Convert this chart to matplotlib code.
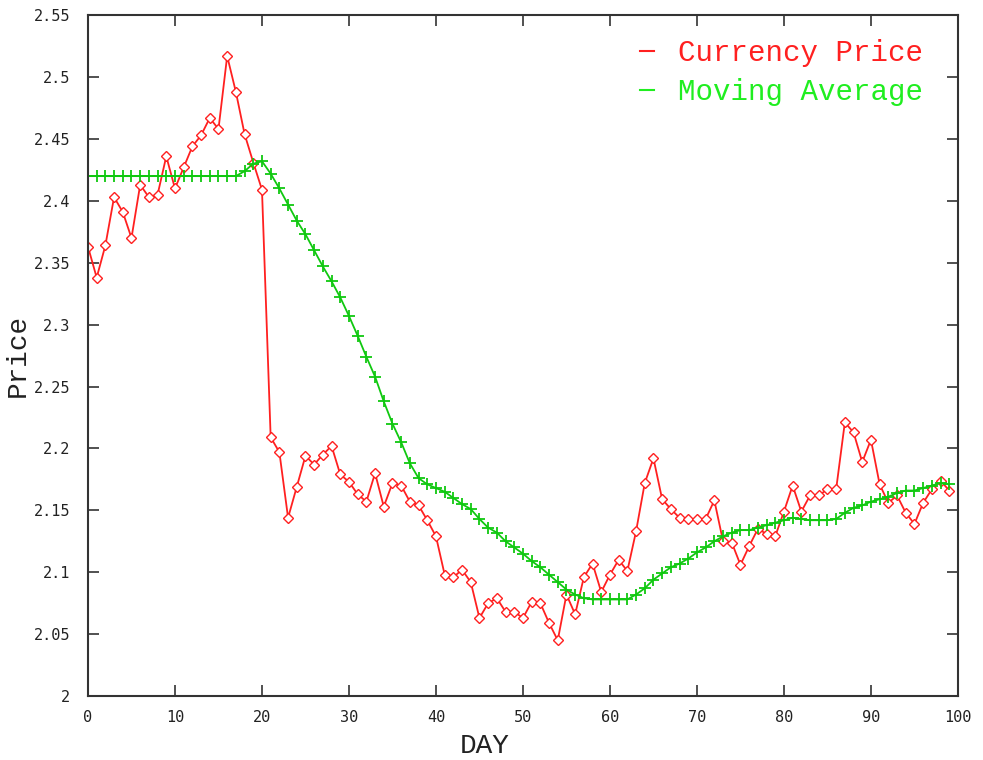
import matplotlib
matplotlib.use('Agg')
import matplotlib.pyplot as plt
from matplotlib.lines import Line2D
from matplotlib.ticker import FuncFormatter
import numpy as np

# values
days = np.arange(100)
price = [2.363, 2.338, 2.364, 2.403, 2.391, 2.370, 2.413, 2.403, 2.405, 2.436,
         2.410, 2.427, 2.444, 2.453, 2.467, 2.458, 2.517, 2.488, 2.454, 2.431,
         2.409, 2.209, 2.197, 2.144, 2.169, 2.194, 2.187, 2.195, 2.202, 2.179,
         2.173, 2.163, 2.157, 2.180, 2.153, 2.172, 2.170, 2.157, 2.154, 2.142,
         2.129, 2.098, 2.096, 2.102, 2.092, 2.063, 2.075, 2.079, 2.068, 2.068,
         2.063, 2.076, 2.075, 2.059, 2.045, 2.082, 2.066, 2.096, 2.107, 2.084,
         2.098, 2.110, 2.101, 2.133, 2.172, 2.192, 2.159, 2.151, 2.144, 2.143,
         2.143, 2.143, 2.158, 2.125, 2.124, 2.106, 2.121, 2.135, 2.131, 2.129,
         2.149, 2.170, 2.149, 2.162, 2.162, 2.167, 2.167, 2.221, 2.213, 2.189,
         2.207, 2.171, 2.156, 2.162, 2.148, 2.139, 2.156, 2.167, 2.174, 2.166]
moving_avg = [2.420] * 18 + [
    2.424, 2.430, 2.432, 2.422, 2.410, 2.397, 2.384, 2.373, 2.360, 2.347,
    2.335, 2.322, 2.307, 2.291, 2.274, 2.258, 2.238, 2.220, 2.205, 2.188,
    2.176, 2.171, 2.168, 2.165, 2.160, 2.155, 2.151, 2.143, 2.136, 2.132,
    2.125, 2.120, 2.115, 2.109, 2.104, 2.098, 2.092, 2.086, 2.082, 2.079,
    2.078, 2.078, 2.078, 2.078, 2.078, 2.082, 2.087, 2.094, 2.099, 2.104,
    2.107, 2.111, 2.116, 2.120, 2.125, 2.129, 2.132, 2.134, 2.134, 2.136,
    2.138, 2.140, 2.142, 2.144, 2.143, 2.142, 2.142, 2.142, 2.143, 2.148,
    2.152, 2.154, 2.157, 2.159, 2.161, 2.164, 2.166, 2.166, 2.168, 2.170,
    2.172, 2.171]
labels = ['Currency Price', 'Moving Average']

red = '#ff2020'
green = '#10c810'
green_text = '#20ee20'

fig = plt.figure(figsize=(9.83, 7.6), dpi=100)
ax = fig.add_axes([0.0895, 0.0842, 0.885, 0.8958])

ax.plot(days, price, color=red, lw=1.3, marker='D', ms=5,
        mfc='white', mec=red, mew=1.0)
ax.plot(days, moving_avg, color=green, lw=1.3, marker='+', ms=8, mew=1.3)

ax.set_xlim(0, 100)
ax.set_ylim(2, 2.55)
ax.set_xticks(np.arange(0, 101, 10))
ax.set_yticks(np.arange(2, 2.551, 0.05))
ax.yaxis.set_major_formatter(FuncFormatter(lambda v, p: '%g' % round(v, 2)))

for s in ax.spines.values():
    s.set_color('#333333')
    s.set_linewidth(1.5)
ax.tick_params(direction='in', length=8, width=1.2, color='#333333',
               top=True, right=True, labelsize=11)
ax.tick_params(axis='y', pad=13)
ax.tick_params(axis='x', pad=10)
for t in ax.get_xticklabels() + ax.get_yticklabels():
    t.set_family('DejaVu Sans Mono')
    t.set_color('#222222')

ax.set_xlabel('DAY', family='Liberation Mono', fontsize=20, color='#222222')
ax.xaxis.set_label_coords(0.456, -0.055)
ax.set_ylabel('Price', family='Liberation Mono', fontsize=20, labelpad=2, color='#222222')

handles = [Line2D([0], [0], color=red, lw=1.5),
           Line2D([0], [0], color=green_text, lw=1.5)]
leg = ax.legend(handles, labels, loc='upper right', bbox_to_anchor=(0.973, 0.982),
                frameon=False, handlelength=0.5, handletextpad=0.8,
                labelspacing=0.37, borderaxespad=0,
                prop={'family': 'Liberation Mono', 'size': 21})
for txt, c in zip(leg.get_texts(), [red, green_text]):
    txt.set_color(c)

fig.savefig('out.png', dpi=100)
